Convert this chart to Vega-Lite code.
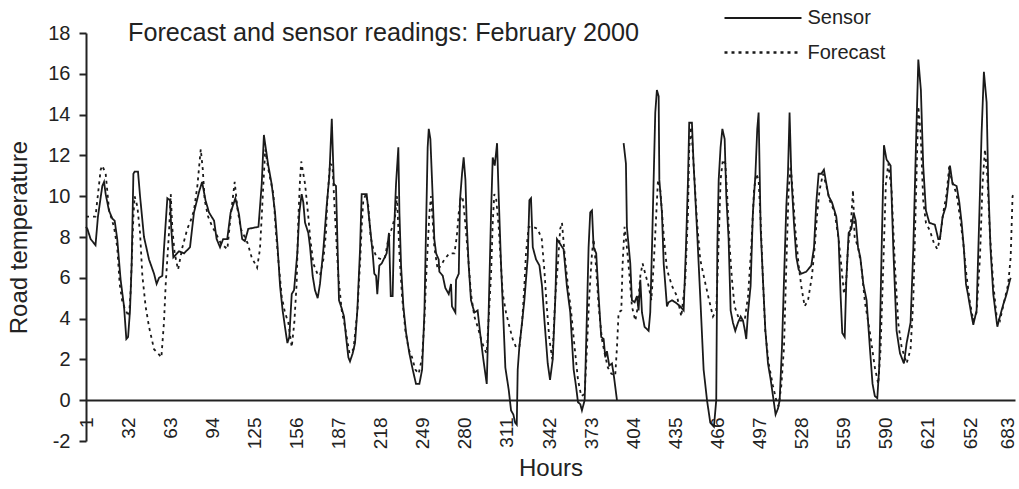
{
"$schema": "https://vega.github.io/schema/vega-lite/v6.json",
"width": 929, "height": 408,
"autosize": {"type": "none"},
"padding": {"left": 86, "top": 33, "right": 4, "bottom": 48},
"background": "white",
"config": {"font": "Liberation Sans", "view": {"stroke": null}},
"title": {"text": "Forecast and sensor readings: February 2000", "anchor": "start", "frame": "group", "dx": 42, "dy": 38, "offset": -14, "fontSize": 25.2, "fontWeight": "normal", "color": "#222"},
"data": {"values": [
{"h":1,"s":"Sensor","t":8.5},{"h":2,"s":"Sensor","t":8.4},{"h":4.4,"s":"Sensor","t":7.9},{"h":8,"s":"Sensor","t":7.6},{"h":9.8,"s":"Sensor","t":9.0},{"h":13,"s":"Sensor","t":10.5},{"h":14.3,"s":"Sensor","t":10.7},{"h":15.5,"s":"Sensor","t":10.1},{"h":17.9,"s":"Sensor","t":9.3},{"h":20.4,"s":"Sensor","t":8.9},{"h":22.1,"s":"Sensor","t":8.8},{"h":24,"s":"Sensor","t":7.9},{"h":26.5,"s":"Sensor","t":5.9},{"h":29,"s":"Sensor","t":4.6},{"h":30.7,"s":"Sensor","t":3.0},{"h":32,"s":"Sensor","t":3.1},{"h":33.4,"s":"Sensor","t":4.4},{"h":34.6,"s":"Sensor","t":6.6},{"h":35.9,"s":"Sensor","t":11.1},{"h":36.8,"s":"Sensor","t":11.2},{"h":39.3,"s":"Sensor","t":11.2},{"h":40.8,"s":"Sensor","t":10.0},{"h":43.7,"s":"Sensor","t":8.0},{"h":47.4,"s":"Sensor","t":6.9},{"h":51.1,"s":"Sensor","t":6.2},{"h":53,"s":"Sensor","t":5.7},{"h":54.8,"s":"Sensor","t":6.0},{"h":57.2,"s":"Sensor","t":6.1},{"h":58.4,"s":"Sensor","t":7.4},{"h":60.9,"s":"Sensor","t":9.9},{"h":62.9,"s":"Sensor","t":9.8},{"h":63.8,"s":"Sensor","t":8.4},{"h":65.3,"s":"Sensor","t":7.0},{"h":69.5,"s":"Sensor","t":7.3},{"h":73.2,"s":"Sensor","t":7.2},{"h":77.6,"s":"Sensor","t":7.5},{"h":80.5,"s":"Sensor","t":9.2},{"h":84.2,"s":"Sensor","t":10.2},{"h":86.5,"s":"Sensor","t":10.7},{"h":89,"s":"Sensor","t":9.8},{"h":91.6,"s":"Sensor","t":9.2},{"h":95.3,"s":"Sensor","t":8.8},{"h":97.2,"s":"Sensor","t":7.9},{"h":99.7,"s":"Sensor","t":7.5},{"h":102,"s":"Sensor","t":7.9},{"h":105,"s":"Sensor","t":7.9},{"h":107.5,"s":"Sensor","t":9.2},{"h":111,"s":"Sensor","t":9.9},{"h":113.7,"s":"Sensor","t":9.1},{"h":116,"s":"Sensor","t":7.9},{"h":118,"s":"Sensor","t":7.8},{"h":120.5,"s":"Sensor","t":8.4},{"h":128,"s":"Sensor","t":8.5},{"h":130.4,"s":"Sensor","t":10.6},{"h":132,"s":"Sensor","t":13.0},{"h":135,"s":"Sensor","t":11.6},{"h":137.7,"s":"Sensor","t":10.6},{"h":140.2,"s":"Sensor","t":9.2},{"h":141.9,"s":"Sensor","t":7.7},{"h":143.9,"s":"Sensor","t":5.6},{"h":145.8,"s":"Sensor","t":4.4},{"h":147.5,"s":"Sensor","t":3.6},{"h":149.3,"s":"Sensor","t":2.8},{"h":150.7,"s":"Sensor","t":3.1},{"h":152.5,"s":"Sensor","t":5.2},{"h":154.2,"s":"Sensor","t":5.4},{"h":156.6,"s":"Sensor","t":7.2},{"h":158.1,"s":"Sensor","t":9.2},{"h":159.8,"s":"Sensor","t":10.1},{"h":161,"s":"Sensor","t":9.7},{"h":162.3,"s":"Sensor","t":8.7},{"h":164.7,"s":"Sensor","t":8.2},{"h":166,"s":"Sensor","t":7.5},{"h":167.9,"s":"Sensor","t":6.1},{"h":169.6,"s":"Sensor","t":5.4},{"h":171.6,"s":"Sensor","t":5.0},{"h":173.3,"s":"Sensor","t":5.7},{"h":175.8,"s":"Sensor","t":7.4},{"h":178.2,"s":"Sensor","t":9.5},{"h":180.2,"s":"Sensor","t":11.0},{"h":182,"s":"Sensor","t":13.8},{"h":183.5,"s":"Sensor","t":10.6},{"h":185.1,"s":"Sensor","t":10.5},{"h":186.3,"s":"Sensor","t":7.4},{"h":187.3,"s":"Sensor","t":4.9},{"h":189.3,"s":"Sensor","t":4.5},{"h":191,"s":"Sensor","t":4.1},{"h":192.5,"s":"Sensor","t":3.1},{"h":194.2,"s":"Sensor","t":2.1},{"h":195.4,"s":"Sensor","t":1.9},{"h":197.4,"s":"Sensor","t":2.3},{"h":199.1,"s":"Sensor","t":2.8},{"h":200.8,"s":"Sensor","t":4.4},{"h":202.8,"s":"Sensor","t":7.4},{"h":204,"s":"Sensor","t":10.1},{"h":207.7,"s":"Sensor","t":10.1},{"h":208.9,"s":"Sensor","t":9.3},{"h":210.6,"s":"Sensor","t":8.2},{"h":212.1,"s":"Sensor","t":7.2},{"h":213.3,"s":"Sensor","t":6.2},{"h":214.6,"s":"Sensor","t":6.1},{"h":215.5,"s":"Sensor","t":5.2},{"h":217,"s":"Sensor","t":6.6},{"h":218.7,"s":"Sensor","t":6.7},{"h":222.4,"s":"Sensor","t":7.2},{"h":224.1,"s":"Sensor","t":8.2},{"h":225.4,"s":"Sensor","t":5.1},{"h":226.8,"s":"Sensor","t":5.1},{"h":227.8,"s":"Sensor","t":8.2},{"h":229.3,"s":"Sensor","t":10.6},{"h":231,"s":"Sensor","t":12.4},{"h":231.8,"s":"Sensor","t":9.2},{"h":233,"s":"Sensor","t":6.6},{"h":234.7,"s":"Sensor","t":4.6},{"h":236.7,"s":"Sensor","t":3.3},{"h":239.1,"s":"Sensor","t":2.3},{"h":241.6,"s":"Sensor","t":1.5},{"h":244,"s":"Sensor","t":0.8},{"h":246.5,"s":"Sensor","t":0.8},{"h":248.5,"s":"Sensor","t":1.5},{"h":250.2,"s":"Sensor","t":4.3},{"h":251.4,"s":"Sensor","t":8.4},{"h":252.6,"s":"Sensor","t":12.4},{"h":253.4,"s":"Sensor","t":13.3},{"h":254.6,"s":"Sensor","t":12.8},{"h":255.8,"s":"Sensor","t":10.8},{"h":257.5,"s":"Sensor","t":7.9},{"h":258.8,"s":"Sensor","t":7.2},{"h":260.7,"s":"Sensor","t":6.9},{"h":261.2,"s":"Sensor","t":6.3},{"h":263.7,"s":"Sensor","t":6.1},{"h":265.6,"s":"Sensor","t":5.5},{"h":268.1,"s":"Sensor","t":5.2},{"h":269.8,"s":"Sensor","t":5.7},{"h":270.5,"s":"Sensor","t":4.6},{"h":273,"s":"Sensor","t":4.3},{"h":273.5,"s":"Sensor","t":5.9},{"h":275.5,"s":"Sensor","t":6.2},{"h":276.4,"s":"Sensor","t":9.8},{"h":277.9,"s":"Sensor","t":11.1},{"h":279.1,"s":"Sensor","t":11.9},{"h":280.4,"s":"Sensor","t":10.8},{"h":281.3,"s":"Sensor","t":8.8},{"h":282.8,"s":"Sensor","t":6.6},{"h":284.5,"s":"Sensor","t":4.9},{"h":287,"s":"Sensor","t":4.3},{"h":289.4,"s":"Sensor","t":4.4},{"h":291.2,"s":"Sensor","t":3.3},{"h":293.6,"s":"Sensor","t":2.0},{"h":296.1,"s":"Sensor","t":0.8},{"h":297.5,"s":"Sensor","t":4.3},{"h":299.3,"s":"Sensor","t":9.2},{"h":300.5,"s":"Sensor","t":11.9},{"h":302,"s":"Sensor","t":11.5},{"h":303.7,"s":"Sensor","t":12.6},{"h":304.9,"s":"Sensor","t":10.0},{"h":306.6,"s":"Sensor","t":6.7},{"h":308.4,"s":"Sensor","t":3.9},{"h":309.8,"s":"Sensor","t":1.6},{"h":312.3,"s":"Sensor","t":0.5},{"h":314,"s":"Sensor","t":-0.5},{"h":315.7,"s":"Sensor","t":-0.7},{"h":317,"s":"Sensor","t":-1.1},{"h":318.2,"s":"Sensor","t":-1.2},{"h":318.9,"s":"Sensor","t":1.5},{"h":320.1,"s":"Sensor","t":2.6},{"h":322.1,"s":"Sensor","t":3.8},{"h":323.8,"s":"Sensor","t":4.9},{"h":326.3,"s":"Sensor","t":7.0},{"h":327.5,"s":"Sensor","t":9.8},{"h":328.7,"s":"Sensor","t":9.9},{"h":330,"s":"Sensor","t":7.5},{"h":332.4,"s":"Sensor","t":6.9},{"h":334.9,"s":"Sensor","t":6.6},{"h":336.8,"s":"Sensor","t":5.6},{"h":338.6,"s":"Sensor","t":3.9},{"h":341,"s":"Sensor","t":1.8},{"h":342.7,"s":"Sensor","t":1.0},{"h":344.7,"s":"Sensor","t":2.0},{"h":346.6,"s":"Sensor","t":5.0},{"h":347.8,"s":"Sensor","t":7.9},{"h":352.7,"s":"Sensor","t":7.4},{"h":355.1,"s":"Sensor","t":5.6},{"h":357.6,"s":"Sensor","t":4.3},{"h":360.1,"s":"Sensor","t":1.5},{"h":361.8,"s":"Sensor","t":0.7},{"h":363.3,"s":"Sensor","t":-0.1},{"h":365,"s":"Sensor","t":-0.2},{"h":366.2,"s":"Sensor","t":-0.5},{"h":368.2,"s":"Sensor","t":0.0},{"h":369.9,"s":"Sensor","t":4.3},{"h":371.1,"s":"Sensor","t":7.5},{"h":372.3,"s":"Sensor","t":9.2},{"h":373.6,"s":"Sensor","t":9.3},{"h":374.8,"s":"Sensor","t":7.5},{"h":376.7,"s":"Sensor","t":7.2},{"h":378.5,"s":"Sensor","t":5.1},{"h":380.4,"s":"Sensor","t":3.1},{"h":382.2,"s":"Sensor","t":3.0},{"h":383.4,"s":"Sensor","t":2.1},{"h":384.6,"s":"Sensor","t":2.4},{"h":386.3,"s":"Sensor","t":1.7},{"h":388.3,"s":"Sensor","t":1.8},{"h":389.5,"s":"Sensor","t":1.3},{"h":392,"s":"Sensor","t":0.0},{"h":394,"s":"Sensor","t":null},{"h":396.9,"s":"Sensor","t":12.6},{"h":398.6,"s":"Sensor","t":11.6},{"h":399.3,"s":"Sensor","t":8.5},{"h":401.8,"s":"Sensor","t":6.7},{"h":403,"s":"Sensor","t":4.9},{"h":405,"s":"Sensor","t":4.8},{"h":406.7,"s":"Sensor","t":5.1},{"h":407.9,"s":"Sensor","t":4.4},{"h":409.2,"s":"Sensor","t":5.9},{"h":410.4,"s":"Sensor","t":4.3},{"h":412.3,"s":"Sensor","t":3.6},{"h":415.3,"s":"Sensor","t":3.4},{"h":416.5,"s":"Sensor","t":4.3},{"h":417.8,"s":"Sensor","t":7.5},{"h":419,"s":"Sensor","t":10.8},{"h":420.2,"s":"Sensor","t":14.1},{"h":421.4,"s":"Sensor","t":15.2},{"h":422.7,"s":"Sensor","t":14.9},{"h":423.2,"s":"Sensor","t":10.8},{"h":425.1,"s":"Sensor","t":9.2},{"h":426.4,"s":"Sensor","t":6.7},{"h":428.8,"s":"Sensor","t":4.6},{"h":430,"s":"Sensor","t":4.8},{"h":432.5,"s":"Sensor","t":4.9},{"h":434.9,"s":"Sensor","t":4.8},{"h":438.6,"s":"Sensor","t":4.6},{"h":441.1,"s":"Sensor","t":4.4},{"h":442.8,"s":"Sensor","t":7.5},{"h":444.3,"s":"Sensor","t":10.8},{"h":445.2,"s":"Sensor","t":13.6},{"h":447.2,"s":"Sensor","t":13.6},{"h":448.4,"s":"Sensor","t":11.6},{"h":450.9,"s":"Sensor","t":8.4},{"h":453.3,"s":"Sensor","t":5.1},{"h":455.8,"s":"Sensor","t":1.5},{"h":458.3,"s":"Sensor","t":0.0},{"h":460.7,"s":"Sensor","t":-1.1},{"h":463.4,"s":"Sensor","t":-1.3},{"h":465.1,"s":"Sensor","t":0.0},{"h":465.9,"s":"Sensor","t":7.5},{"h":466.9,"s":"Sensor","t":10.8},{"h":468.3,"s":"Sensor","t":12.4},{"h":469.6,"s":"Sensor","t":13.3},{"h":471.3,"s":"Sensor","t":12.8},{"h":472.5,"s":"Sensor","t":10.0},{"h":474.2,"s":"Sensor","t":7.9},{"h":475.7,"s":"Sensor","t":4.4},{"h":477.4,"s":"Sensor","t":3.8},{"h":479.1,"s":"Sensor","t":3.4},{"h":481.1,"s":"Sensor","t":3.8},{"h":483.1,"s":"Sensor","t":4.1},{"h":484.8,"s":"Sensor","t":3.9},{"h":486,"s":"Sensor","t":3.5},{"h":487.2,"s":"Sensor","t":3.0},{"h":488.5,"s":"Sensor","t":4.3},{"h":490.4,"s":"Sensor","t":5.6},{"h":492.1,"s":"Sensor","t":9.2},{"h":493.9,"s":"Sensor","t":11.0},{"h":495.3,"s":"Sensor","t":13.3},{"h":496.3,"s":"Sensor","t":14.1},{"h":497.8,"s":"Sensor","t":8.4},{"h":499.5,"s":"Sensor","t":5.9},{"h":501.2,"s":"Sensor","t":3.5},{"h":503.2,"s":"Sensor","t":1.8},{"h":505.2,"s":"Sensor","t":1.0},{"h":506.9,"s":"Sensor","t":0.2},{"h":508.8,"s":"Sensor","t":-0.7},{"h":510.6,"s":"Sensor","t":-0.4},{"h":511.8,"s":"Sensor","t":0.0},{"h":513.5,"s":"Sensor","t":2.6},{"h":515,"s":"Sensor","t":5.9},{"h":516.7,"s":"Sensor","t":9.5},{"h":517.9,"s":"Sensor","t":11.1},{"h":519.1,"s":"Sensor","t":14.1},{"h":520.4,"s":"Sensor","t":11.0},{"h":522.3,"s":"Sensor","t":8.7},{"h":524.1,"s":"Sensor","t":7.0},{"h":525.8,"s":"Sensor","t":6.4},{"h":527.7,"s":"Sensor","t":6.2},{"h":531.4,"s":"Sensor","t":6.3},{"h":535.1,"s":"Sensor","t":6.6},{"h":537.1,"s":"Sensor","t":7.5},{"h":538.8,"s":"Sensor","t":9.7},{"h":540.5,"s":"Sensor","t":11.1},{"h":542.5,"s":"Sensor","t":11.1},{"h":544.4,"s":"Sensor","t":11.3},{"h":546.2,"s":"Sensor","t":10.6},{"h":547.9,"s":"Sensor","t":10.0},{"h":550.3,"s":"Sensor","t":9.7},{"h":553.5,"s":"Sensor","t":9.0},{"h":555.2,"s":"Sensor","t":7.9},{"h":556.7,"s":"Sensor","t":5.1},{"h":557.9,"s":"Sensor","t":3.3},{"h":559.7,"s":"Sensor","t":3.1},{"h":560.9,"s":"Sensor","t":5.9},{"h":562.6,"s":"Sensor","t":8.2},{"h":564.6,"s":"Sensor","t":8.4},{"h":566.3,"s":"Sensor","t":9.2},{"h":567.8,"s":"Sensor","t":8.8},{"h":569.5,"s":"Sensor","t":7.5},{"h":571.2,"s":"Sensor","t":7.0},{"h":573.4,"s":"Sensor","t":5.7},{"h":575.8,"s":"Sensor","t":4.9},{"h":578.3,"s":"Sensor","t":2.5},{"h":580.2,"s":"Sensor","t":0.8},{"h":581.9,"s":"Sensor","t":0.2},{"h":583.7,"s":"Sensor","t":0.1},{"h":585.1,"s":"Sensor","t":1.6},{"h":586.9,"s":"Sensor","t":7.4},{"h":588.6,"s":"Sensor","t":12.5},{"h":590.5,"s":"Sensor","t":11.8},{"h":593.5,"s":"Sensor","t":11.5},{"h":595.5,"s":"Sensor","t":7.4},{"h":597.9,"s":"Sensor","t":3.4},{"h":600.4,"s":"Sensor","t":2.3},{"h":603.3,"s":"Sensor","t":1.8},{"h":605.3,"s":"Sensor","t":2.8},{"h":608.2,"s":"Sensor","t":3.8},{"h":610.2,"s":"Sensor","t":7.4},{"h":612.1,"s":"Sensor","t":12.3},{"h":613.9,"s":"Sensor","t":16.7},{"h":615.8,"s":"Sensor","t":15.2},{"h":617.5,"s":"Sensor","t":11.5},{"h":619.5,"s":"Sensor","t":9.3},{"h":622,"s":"Sensor","t":8.7},{"h":626.1,"s":"Sensor","t":8.6},{"h":628.6,"s":"Sensor","t":7.9},{"h":629.8,"s":"Sensor","t":7.9},{"h":631.8,"s":"Sensor","t":9.0},{"h":634.2,"s":"Sensor","t":9.5},{"h":636,"s":"Sensor","t":10.6},{"h":637.2,"s":"Sensor","t":11.5},{"h":639.1,"s":"Sensor","t":10.6},{"h":642.1,"s":"Sensor","t":10.5},{"h":644.1,"s":"Sensor","t":9.7},{"h":645.8,"s":"Sensor","t":8.7},{"h":647.5,"s":"Sensor","t":7.4},{"h":649,"s":"Sensor","t":5.7},{"h":650.7,"s":"Sensor","t":5.1},{"h":652.7,"s":"Sensor","t":4.3},{"h":654.4,"s":"Sensor","t":3.7},{"h":656.8,"s":"Sensor","t":4.4},{"h":658.8,"s":"Sensor","t":9.0},{"h":660.5,"s":"Sensor","t":13.1},{"h":662.2,"s":"Sensor","t":16.1},{"h":664.2,"s":"Sensor","t":14.6},{"h":665.4,"s":"Sensor","t":10.6},{"h":667.1,"s":"Sensor","t":7.4},{"h":669.1,"s":"Sensor","t":5.2},{"h":672.1,"s":"Sensor","t":3.6},{"h":674,"s":"Sensor","t":4.1},{"h":676.5,"s":"Sensor","t":4.7},{"h":678.9,"s":"Sensor","t":5.2},{"h":681.4,"s":"Sensor","t":5.9},{"h":682,"s":"Sensor","t":6.0},
{"h":1,"s":"Forecast","t":9.0},{"h":8,"s":"Forecast","t":9.0},{"h":11.8,"s":"Forecast","t":11.3},{"h":13,"s":"Forecast","t":11.5},{"h":15.5,"s":"Forecast","t":11.1},{"h":18,"s":"Forecast","t":9.3},{"h":21.6,"s":"Forecast","t":8.5},{"h":24,"s":"Forecast","t":7.5},{"h":25.8,"s":"Forecast","t":5.7},{"h":27.8,"s":"Forecast","t":4.8},{"h":30.2,"s":"Forecast","t":4.4},{"h":32.7,"s":"Forecast","t":4.1},{"h":33.9,"s":"Forecast","t":5.4},{"h":35.9,"s":"Forecast","t":9.0},{"h":36.8,"s":"Forecast","t":10.0},{"h":38.8,"s":"Forecast","t":9.5},{"h":40.8,"s":"Forecast","t":8.2},{"h":42.5,"s":"Forecast","t":6.1},{"h":44.9,"s":"Forecast","t":4.6},{"h":47.4,"s":"Forecast","t":3.6},{"h":51.1,"s":"Forecast","t":2.5},{"h":54,"s":"Forecast","t":2.3},{"h":56.5,"s":"Forecast","t":2.1},{"h":58.4,"s":"Forecast","t":3.8},{"h":59.7,"s":"Forecast","t":5.7},{"h":62.1,"s":"Forecast","t":8.2},{"h":63.4,"s":"Forecast","t":10.1},{"h":64.6,"s":"Forecast","t":8.4},{"h":66.3,"s":"Forecast","t":7.2},{"h":68.8,"s":"Forecast","t":6.4},{"h":72,"s":"Forecast","t":7.5},{"h":75.6,"s":"Forecast","t":8.4},{"h":78.1,"s":"Forecast","t":8.8},{"h":80.5,"s":"Forecast","t":9.3},{"h":83,"s":"Forecast","t":10.5},{"h":85.5,"s":"Forecast","t":12.3},{"h":87,"s":"Forecast","t":11.3},{"h":88.4,"s":"Forecast","t":9.8},{"h":90.9,"s":"Forecast","t":9.0},{"h":94,"s":"Forecast","t":8.5},{"h":96.5,"s":"Forecast","t":8.2},{"h":100.2,"s":"Forecast","t":7.7},{"h":105.1,"s":"Forecast","t":7.4},{"h":107.5,"s":"Forecast","t":9.0},{"h":110.5,"s":"Forecast","t":10.7},{"h":112.5,"s":"Forecast","t":9.4},{"h":115,"s":"Forecast","t":8.4},{"h":120,"s":"Forecast","t":7.7},{"h":123,"s":"Forecast","t":7.0},{"h":127,"s":"Forecast","t":6.5},{"h":129.1,"s":"Forecast","t":7.4},{"h":130.4,"s":"Forecast","t":9.0},{"h":131.6,"s":"Forecast","t":10.6},{"h":133,"s":"Forecast","t":12.3},{"h":135.3,"s":"Forecast","t":11.3},{"h":139,"s":"Forecast","t":10.1},{"h":140.9,"s":"Forecast","t":8.2},{"h":142.6,"s":"Forecast","t":6.9},{"h":145.1,"s":"Forecast","t":5.1},{"h":147.5,"s":"Forecast","t":4.3},{"h":150,"s":"Forecast","t":3.8},{"h":152.5,"s":"Forecast","t":2.6},{"h":154.4,"s":"Forecast","t":3.8},{"h":156.1,"s":"Forecast","t":5.7},{"h":157.4,"s":"Forecast","t":9.0},{"h":158.6,"s":"Forecast","t":10.8},{"h":159.5,"s":"Forecast","t":11.7},{"h":162.3,"s":"Forecast","t":10.6},{"h":164.7,"s":"Forecast","t":9.0},{"h":166,"s":"Forecast","t":8.0},{"h":168.4,"s":"Forecast","t":6.7},{"h":171.4,"s":"Forecast","t":6.2},{"h":173.3,"s":"Forecast","t":6.1},{"h":175.8,"s":"Forecast","t":6.9},{"h":177.7,"s":"Forecast","t":8.2},{"h":178.7,"s":"Forecast","t":9.8},{"h":180.7,"s":"Forecast","t":11.6},{"h":182.5,"s":"Forecast","t":11.5},{"h":184.4,"s":"Forecast","t":9.0},{"h":186.8,"s":"Forecast","t":6.1},{"h":189.3,"s":"Forecast","t":4.4},{"h":192,"s":"Forecast","t":3.5},{"h":195,"s":"Forecast","t":2.3},{"h":198,"s":"Forecast","t":2.5},{"h":201,"s":"Forecast","t":4.5},{"h":203,"s":"Forecast","t":7.0},{"h":204,"s":"Forecast","t":8.5},{"h":205.2,"s":"Forecast","t":9.8},{"h":207.2,"s":"Forecast","t":10.1},{"h":208.9,"s":"Forecast","t":9.5},{"h":210.6,"s":"Forecast","t":8.0},{"h":212.6,"s":"Forecast","t":7.4},{"h":215,"s":"Forecast","t":7.0},{"h":218.7,"s":"Forecast","t":6.9},{"h":221.2,"s":"Forecast","t":7.0},{"h":223.6,"s":"Forecast","t":7.9},{"h":226.1,"s":"Forecast","t":8.4},{"h":228.6,"s":"Forecast","t":9.0},{"h":230,"s":"Forecast","t":10.0},{"h":231.8,"s":"Forecast","t":7.2},{"h":233.7,"s":"Forecast","t":5.1},{"h":236.2,"s":"Forecast","t":3.4},{"h":238.6,"s":"Forecast","t":2.5},{"h":241.1,"s":"Forecast","t":2.1},{"h":243.5,"s":"Forecast","t":1.5},{"h":246,"s":"Forecast","t":1.3},{"h":248.5,"s":"Forecast","t":2.1},{"h":250.2,"s":"Forecast","t":3.9},{"h":251.4,"s":"Forecast","t":5.9},{"h":252.6,"s":"Forecast","t":7.5},{"h":253.9,"s":"Forecast","t":9.2},{"h":255.1,"s":"Forecast","t":10.0},{"h":256.3,"s":"Forecast","t":8.8},{"h":257.5,"s":"Forecast","t":7.5},{"h":260,"s":"Forecast","t":6.4},{"h":262.4,"s":"Forecast","t":6.6},{"h":264.9,"s":"Forecast","t":6.9},{"h":268.6,"s":"Forecast","t":7.2},{"h":272.3,"s":"Forecast","t":7.2},{"h":274,"s":"Forecast","t":8.0},{"h":275.5,"s":"Forecast","t":9.2},{"h":277.2,"s":"Forecast","t":10.0},{"h":278.4,"s":"Forecast","t":9.9},{"h":279.6,"s":"Forecast","t":9.2},{"h":280.9,"s":"Forecast","t":8.2},{"h":282.8,"s":"Forecast","t":6.7},{"h":284.5,"s":"Forecast","t":5.2},{"h":287,"s":"Forecast","t":4.1},{"h":289.4,"s":"Forecast","t":3.6},{"h":291.9,"s":"Forecast","t":3.0},{"h":294.4,"s":"Forecast","t":2.5},{"h":296.1,"s":"Forecast","t":2.3},{"h":298,"s":"Forecast","t":4.6},{"h":299.3,"s":"Forecast","t":6.2},{"h":300.5,"s":"Forecast","t":8.7},{"h":301.7,"s":"Forecast","t":10.1},{"h":303,"s":"Forecast","t":9.9},{"h":304.9,"s":"Forecast","t":8.5},{"h":306.6,"s":"Forecast","t":6.6},{"h":307.9,"s":"Forecast","t":5.2},{"h":310.3,"s":"Forecast","t":4.3},{"h":312.8,"s":"Forecast","t":3.6},{"h":315.2,"s":"Forecast","t":3.0},{"h":317.7,"s":"Forecast","t":2.6},{"h":320.1,"s":"Forecast","t":2.6},{"h":322.1,"s":"Forecast","t":3.8},{"h":323.8,"s":"Forecast","t":5.6},{"h":325,"s":"Forecast","t":7.2},{"h":327,"s":"Forecast","t":8.5},{"h":330,"s":"Forecast","t":8.5},{"h":333.6,"s":"Forecast","t":8.4},{"h":336.6,"s":"Forecast","t":7.9},{"h":338.5,"s":"Forecast","t":6.4},{"h":340.3,"s":"Forecast","t":4.6},{"h":342.2,"s":"Forecast","t":3.0},{"h":344.4,"s":"Forecast","t":2.0},{"h":346.6,"s":"Forecast","t":5.1},{"h":348.5,"s":"Forecast","t":6.7},{"h":350.2,"s":"Forecast","t":8.4},{"h":351.5,"s":"Forecast","t":8.7},{"h":353.4,"s":"Forecast","t":7.2},{"h":355.9,"s":"Forecast","t":5.6},{"h":358.3,"s":"Forecast","t":4.3},{"h":360.8,"s":"Forecast","t":2.6},{"h":363.3,"s":"Forecast","t":1.0},{"h":365.7,"s":"Forecast","t":0.2},{"h":368.2,"s":"Forecast","t":0.3},{"h":369.9,"s":"Forecast","t":2.6},{"h":371.6,"s":"Forecast","t":5.1},{"h":373.6,"s":"Forecast","t":7.2},{"h":374.8,"s":"Forecast","t":7.9},{"h":376.5,"s":"Forecast","t":6.6},{"h":378.5,"s":"Forecast","t":4.6},{"h":380.9,"s":"Forecast","t":3.0},{"h":382.9,"s":"Forecast","t":2.3},{"h":385.3,"s":"Forecast","t":1.6},{"h":387.8,"s":"Forecast","t":1.3},{"h":390.7,"s":"Forecast","t":1.2},{"h":392,"s":"Forecast","t":2.6},{"h":393.2,"s":"Forecast","t":4.3},{"h":395.2,"s":"Forecast","t":4.4},{"h":396.1,"s":"Forecast","t":6.6},{"h":397.6,"s":"Forecast","t":8.5},{"h":399.3,"s":"Forecast","t":7.5},{"h":401.1,"s":"Forecast","t":6.2},{"h":403,"s":"Forecast","t":4.6},{"h":405.5,"s":"Forecast","t":3.9},{"h":407.4,"s":"Forecast","t":4.6},{"h":409.2,"s":"Forecast","t":6.1},{"h":410.9,"s":"Forecast","t":6.7},{"h":412.8,"s":"Forecast","t":6.2},{"h":415.3,"s":"Forecast","t":5.6},{"h":417.3,"s":"Forecast","t":4.9},{"h":419,"s":"Forecast","t":6.6},{"h":420.7,"s":"Forecast","t":8.8},{"h":422.2,"s":"Forecast","t":10.8},{"h":423.9,"s":"Forecast","t":10.3},{"h":426.3,"s":"Forecast","t":8.2},{"h":428.8,"s":"Forecast","t":6.4},{"h":432.5,"s":"Forecast","t":5.6},{"h":436.2,"s":"Forecast","t":5.1},{"h":439.4,"s":"Forecast","t":4.1},{"h":442.3,"s":"Forecast","t":5.9},{"h":444.3,"s":"Forecast","t":9.2},{"h":445.2,"s":"Forecast","t":12.4},{"h":446.7,"s":"Forecast","t":13.4},{"h":448.4,"s":"Forecast","t":11.6},{"h":450.9,"s":"Forecast","t":8.8},{"h":453.3,"s":"Forecast","t":6.9},{"h":456.5,"s":"Forecast","t":5.9},{"h":459.5,"s":"Forecast","t":5.0},{"h":462.7,"s":"Forecast","t":4.1},{"h":465.1,"s":"Forecast","t":4.4},{"h":466.4,"s":"Forecast","t":6.7},{"h":468.3,"s":"Forecast","t":10.8},{"h":470,"s":"Forecast","t":11.8},{"h":471.8,"s":"Forecast","t":11.6},{"h":473.2,"s":"Forecast","t":10.0},{"h":475,"s":"Forecast","t":7.5},{"h":476.7,"s":"Forecast","t":5.9},{"h":478.6,"s":"Forecast","t":4.6},{"h":482.3,"s":"Forecast","t":3.9},{"h":486,"s":"Forecast","t":3.9},{"h":488.5,"s":"Forecast","t":5.1},{"h":490.9,"s":"Forecast","t":7.5},{"h":492.9,"s":"Forecast","t":10.3},{"h":494.6,"s":"Forecast","t":11.1},{"h":496.3,"s":"Forecast","t":10.8},{"h":497.8,"s":"Forecast","t":8.8},{"h":499.5,"s":"Forecast","t":5.9},{"h":501.2,"s":"Forecast","t":3.4},{"h":503.7,"s":"Forecast","t":1.8},{"h":506.9,"s":"Forecast","t":0.7},{"h":509.3,"s":"Forecast","t":0.0},{"h":511,"s":"Forecast","t":-0.3},{"h":513,"s":"Forecast","t":0.7},{"h":515,"s":"Forecast","t":2.6},{"h":516.7,"s":"Forecast","t":6.6},{"h":518.4,"s":"Forecast","t":10.3},{"h":519.9,"s":"Forecast","t":11.5},{"h":521.6,"s":"Forecast","t":10.1},{"h":523.3,"s":"Forecast","t":8.4},{"h":525.8,"s":"Forecast","t":6.6},{"h":527.7,"s":"Forecast","t":5.6},{"h":530.2,"s":"Forecast","t":4.6},{"h":532.7,"s":"Forecast","t":4.9},{"h":535.6,"s":"Forecast","t":6.1},{"h":537.6,"s":"Forecast","t":7.5},{"h":539.5,"s":"Forecast","t":9.2},{"h":541.2,"s":"Forecast","t":10.3},{"h":543.7,"s":"Forecast","t":11.1},{"h":546.2,"s":"Forecast","t":10.5},{"h":548.6,"s":"Forecast","t":9.8},{"h":552.3,"s":"Forecast","t":9.2},{"h":555.2,"s":"Forecast","t":7.9},{"h":557.2,"s":"Forecast","t":6.6},{"h":559.2,"s":"Forecast","t":5.2},{"h":560.9,"s":"Forecast","t":5.9},{"h":562.1,"s":"Forecast","t":7.5},{"h":564.1,"s":"Forecast","t":8.5},{"h":565.8,"s":"Forecast","t":10.3},{"h":567,"s":"Forecast","t":8.0},{"h":569.5,"s":"Forecast","t":7.5},{"h":571.9,"s":"Forecast","t":6.6},{"h":574.6,"s":"Forecast","t":4.8},{"h":578.3,"s":"Forecast","t":3.3},{"h":581.9,"s":"Forecast","t":1.6},{"h":584.4,"s":"Forecast","t":0.8},{"h":586.1,"s":"Forecast","t":2.5},{"h":588.1,"s":"Forecast","t":6.6},{"h":590,"s":"Forecast","t":10.6},{"h":591.8,"s":"Forecast","t":11.6},{"h":594.2,"s":"Forecast","t":10.3},{"h":596.7,"s":"Forecast","t":6.6},{"h":599.1,"s":"Forecast","t":3.8},{"h":601.6,"s":"Forecast","t":2.6},{"h":605.3,"s":"Forecast","t":1.8},{"h":608.2,"s":"Forecast","t":2.5},{"h":610.2,"s":"Forecast","t":4.9},{"h":612.1,"s":"Forecast","t":9.8},{"h":613.9,"s":"Forecast","t":14.4},{"h":615.6,"s":"Forecast","t":13.1},{"h":617.5,"s":"Forecast","t":9.8},{"h":619.5,"s":"Forecast","t":8.7},{"h":622.5,"s":"Forecast","t":8.3},{"h":625.4,"s":"Forecast","t":7.7},{"h":627.9,"s":"Forecast","t":7.4},{"h":629.8,"s":"Forecast","t":7.9},{"h":632.3,"s":"Forecast","t":9.2},{"h":634.7,"s":"Forecast","t":10.1},{"h":636.7,"s":"Forecast","t":11.5},{"h":638.4,"s":"Forecast","t":10.8},{"h":642.1,"s":"Forecast","t":10.1},{"h":644.5,"s":"Forecast","t":9.0},{"h":647,"s":"Forecast","t":7.7},{"h":649.4,"s":"Forecast","t":6.1},{"h":651.9,"s":"Forecast","t":4.8},{"h":654.4,"s":"Forecast","t":3.9},{"h":656.8,"s":"Forecast","t":4.3},{"h":659.3,"s":"Forecast","t":7.0},{"h":661.2,"s":"Forecast","t":10.6},{"h":663,"s":"Forecast","t":12.3},{"h":664.7,"s":"Forecast","t":11.0},{"h":666.6,"s":"Forecast","t":8.2},{"h":669.1,"s":"Forecast","t":5.7},{"h":671.6,"s":"Forecast","t":4.1},{"h":674,"s":"Forecast","t":3.9},{"h":677,"s":"Forecast","t":4.8},{"h":680.1,"s":"Forecast","t":5.7},{"h":681.9,"s":"Forecast","t":7.0},{"h":683.3,"s":"Forecast","t":10.0},{"h":684.3,"s":"Forecast","t":10.1}
]},
"mark": {"type": "line", "color": "#1a1a1a", "strokeWidth": 1.8, "clip": false, "invalid": "break-paths-show-domains"},
"encoding": {
  "x": {"field": "h", "type": "quantitative", "scale": {"domain": [1, 685.1], "nice": false, "zero": false},
    "axis": {"title": "Hours", "values": [1,32,63,94,125,156,187,218,249,280,311,342,373,404,435,466,497,528,559,590,621,652,683], "labelAngle": -90, "labelFontSize": 19, "labelColor": "#222", "labelOffset": {"condition": {"test": "datum.value >= 683", "value": -5}, "value": 0}, "ticks": false, "tickSize": 0, "labelPadding": 17, "offset": -41, "domainColor": "#222", "domainWidth": 2, "grid": false, "titleFontSize": 24, "titleFontWeight": "normal", "titleColor": "#222", "titlePadding": 8, "labelFlush": false, "labelOverlap": false}},
  "y": {"field": "t", "type": "quantitative", "scale": {"domain": [-2, 18], "nice": false},
    "axis": {"title": "Road temperature", "values": [-2,0,2,4,6,8,10,12,14,16,18], "labelExpr": "'' + datum.value", "labelFontSize": 20, "labelColor": "#222", "tickSize": 7, "tickWidth": 2, "tickColor": "#222", "labelPadding": 9, "domainColor": "#222", "domainWidth": 2, "grid": false, "titleFontSize": 24, "titleFontWeight": "normal", "titleColor": "#222", "titlePadding": 16}},
  "strokeDash": {"field": "s", "type": "nominal", "scale": {"domain": ["Sensor", "Forecast"], "range": [[1, 0], [3, 4]]},
    "legend": {"title": null, "orient": "none", "legendX": 652.5, "legendY": -39, "symbolType": "M-1.674,0H1.674", "symbolSize": 2116, "symbolStrokeWidth": 2, "symbolStrokeColor": "#1a1a1a", "symbolFillColor": "transparent", "labelFontSize": 20, "labelColor": "#222", "labelOffset": 20, "rowPadding": 0}},
  "strokeWidth": {"field": "s", "type": "nominal", "scale": {"domain": ["Sensor", "Forecast"], "range": [1.8, 2.4]}, "legend": null}
}
}
